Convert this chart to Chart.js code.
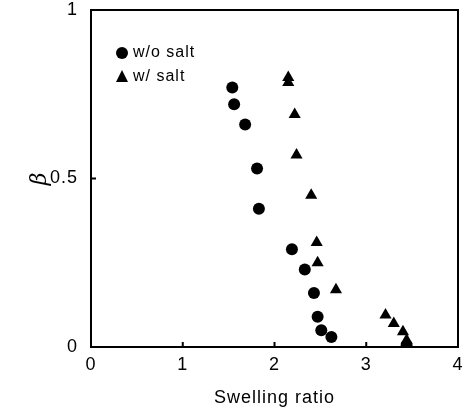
<!DOCTYPE html>
<html>
<head>
<meta charset="utf-8">
<script src="https://cdn.jsdelivr.net/npm/chart.js@4.4.1/dist/chart.umd.min.js"></script>
<style>
    html, body { margin: 0; padding: 0; background: #fff; }
</style>
</head>
<body>
<canvas id="myChart" width="465" height="414"></canvas>
<script>
// swelling ratio vs beta
let noSaltX = [1.54, 1.56, 1.68, 1.81, 1.83, 2.19, 2.33, 2.43, 2.47, 2.51, 2.62, 3.44];
let noSaltY = [0.77, 0.72, 0.66, 0.53, 0.41, 0.29, 0.23, 0.16, 0.09, 0.05, 0.03, 0.005];
let saltX = [2.15, 2.15, 2.22, 2.24, 2.40, 2.46, 2.47, 2.67, 3.21, 3.30, 3.40, 3.44];
let saltY = [0.80, 0.785, 0.69, 0.57, 0.45, 0.31, 0.25, 0.17, 0.095, 0.07, 0.045, 0.02];
let seriesLabels = ['w/o salt', 'w/ salt'];
let xTicks = [0, 1, 2, 3, 4];
let yTicks = [0, 0.5, 1];

let fontName = "'Liberation Sans', Arial, sans-serif";

function toPoints(xs, ys) {
    let pts = [];
    for (let i = 0; i < xs.length; i++) {
        pts.push({ x: xs[i], y: ys[i] });
    }
    return pts;
}

// frame, inward ticks and the little legend inside the plot
const framePlugin = {
    id: 'frame',
    beforeUpdate: chart => { chart.ctx.letterSpacing = '1px'; },
    beforeDraw: chart => { chart.ctx.letterSpacing = '1px'; },
    afterDraw: chart => {
        let ctx = chart.ctx;
        let a = chart.chartArea;
        let xs = chart.scales.x;
        let ys = chart.scales.y;
        ctx.save();
        ctx.strokeStyle = '#000';
        ctx.lineWidth = 2;
        ctx.strokeRect(a.left, a.top, a.right - a.left, a.bottom - a.top);
        ctx.beginPath();
        xTicks.slice(1, -1).forEach(v => {
            let px = xs.getPixelForValue(v);
            ctx.moveTo(px, a.bottom);
            ctx.lineTo(px, a.bottom - 5);
        });
        yTicks.slice(1, -1).forEach(v => {
            let py = ys.getPixelForValue(v);
            ctx.moveTo(a.left, py);
            ctx.lineTo(a.left + 5, py);
        });
        ctx.stroke();

        // legend
        ctx.fillStyle = '#000';
        ctx.beginPath();
        ctx.arc(122, 53, 6, 0, Math.PI * 2);
        ctx.fill();
        ctx.beginPath();
        ctx.moveTo(122, 70);
        ctx.lineTo(128, 82);
        ctx.lineTo(116, 82);
        ctx.closePath();
        ctx.fill();
        ctx.font = '16px ' + fontName;
        ctx.letterSpacing = '1px';
        ctx.textBaseline = 'middle';
        ctx.textAlign = 'left';
        ctx.fillText(seriesLabels[0], 133, 53);
        ctx.fillText(seriesLabels[1], 133, 77);
        ctx.restore();
    }
};

const config = {
    type: 'scatter',
    data: {
        datasets: [{
                label: seriesLabels[0],
                data: toPoints(noSaltX, noSaltY),
                pointStyle: 'circle',
                pointRadius: 6,
                backgroundColor: '#000',
                borderColor: '#000',
                borderWidth: 0
            },
            {
                label: seriesLabels[1],
                data: toPoints(saltX, saltY),
                pointStyle: 'triangle',
                pointRadius: 7,
                backgroundColor: '#000',
                borderColor: '#000',
                borderWidth: 0
            }
        ]
    },
    options: {
        responsive: false,
        animation: false,
        devicePixelRatio: 1,
        layout: { padding: { top: 10, right: 3, left: 0, bottom: 0 } },
        plugins: {
            legend: { display: false },
            tooltip: { enabled: false }
        },
        scales: {
            x: {
                type: 'linear',
                min: 0,
                max: 4,
                afterBuildTicks: s => { s.ticks = xTicks.map(v => ({ value: v })); },
                afterFit: s => { s.height = 67; s.paddingLeft = 0; s.paddingRight = 0; },
                grid: { display: false, drawTicks: false },
                border: { display: true, color: '#000', width: 2 },
                ticks: { color: '#000', padding: 7, font: { family: fontName, size: 18 } },
                title: {
                    display: true,
                    text: 'Swelling ratio',
                    color: '#000',
                    font: { family: fontName, size: 18 },
                    padding: { top: 0, bottom: 5 }
                }
            },
            y: {
                min: 0,
                max: 1,
                afterBuildTicks: s => { s.ticks = yTicks.map(v => ({ value: v })); },
                afterFit: s => { s.width = 91; s.paddingTop = 0; s.paddingBottom = 0; },
                grid: { display: false, drawTicks: false },
                border: { display: true, color: '#000', width: 2 },
                ticks: {
                    color: '#000',
                    padding: 13,
                    font: { family: fontName, size: 18 },
                    callback: v => String(v)
                },
                title: {
                    display: true,
                    text: 'β',
                    color: '#000',
                    font: { family: "'DejaVu Serif', serif", size: 22, style: 'italic' },
                    padding: { top: 27, bottom: 0 }
                }
            }
        }
    },
    plugins: [framePlugin]
};

let myChart = new Chart(document.getElementById('myChart'), config);
</script>
</body>
</html>
